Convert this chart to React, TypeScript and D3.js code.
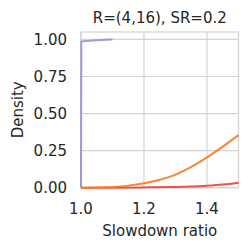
import React, { useEffect, useRef } from 'react';
import * as d3 from 'd3';

const xTicks = [1.0, 1.2, 1.4];
const yTicks = [0, 0.25, 0.5, 0.75, 1.0];

// slowdown ratio vs cumulative density, one list per series
const purpleX = [1.0, 1.001, 1.02, 1.05, 1.08, 1.1];
const purpleY = [0.0, 0.985, 0.99, 0.994, 0.997, 0.999];

const orangeX = [1.0, 1.05, 1.1, 1.15, 1.2, 1.25, 1.3, 1.35, 1.4, 1.45, 1.5];
const orangeY = [0.0, 0.001, 0.005, 0.014, 0.03, 0.054, 0.088, 0.14, 0.205, 0.277, 0.355];

const redX = [1.0, 1.1, 1.2, 1.3, 1.35, 1.4, 1.45, 1.5];
const redY = [0.0, 0.0005, 0.002, 0.005, 0.008, 0.013, 0.021, 0.034];

const App = () => {
    const ref = useRef<SVGSVGElement>(null);

    useEffect(() => {
        const svg = d3.select(ref.current);
        svg.selectAll("*").remove();

        const left = 81, right = 238.5, top = 32, bottom = 187.7;
        const x = d3.scaleLinear().domain([1.0, 1.5]).range([left, right]);
        const y = d3.scaleLinear().domain([0, 1.05]).range([bottom, top]);
        const font = "DejaVu Sans, sans-serif";
        const fs = 15;

        svg.append("rect")
            .attr("x", left).attr("y", top)
            .attr("width", right - left).attr("height", bottom - top)
            .attr("fill", "white")
            .attr("stroke", "#d3d3d3").attr("stroke-width", 1.2);

        const g = svg.append("g");
        g.selectAll(".gx").data(xTicks).enter().append("line")
            .attr("x1", d => x(d)).attr("x2", d => x(d))
            .attr("y1", top).attr("y2", bottom)
            .attr("stroke", "#d3d3d3").attr("stroke-width", 1.2);
        g.selectAll(".gy").data(yTicks).enter().append("line")
            .attr("x1", left).attr("x2", right)
            .attr("y1", d => y(d)).attr("y2", d => y(d))
            .attr("stroke", "#d3d3d3").attr("stroke-width", 1.2);

        g.selectAll(".tx").data(xTicks).enter().append("text")
            .attr("x", d => x(d)).attr("y", 214)
            .attr("text-anchor", "middle")
            .attr("font-family", font).attr("font-size", fs).attr("fill", "#262626")
            .text(d => d3.format(".1f")(d));
        g.selectAll(".ty").data(yTicks).enter().append("text")
            .attr("x", 67).attr("y", d => y(d))
            .attr("dy", "0.36em")
            .attr("text-anchor", "end")
            .attr("font-family", font).attr("font-size", fs).attr("fill", "#262626")
            .text(d => d3.format(".2f")(d));

        const line = d3.line<[number, number]>()
            .x(d => x(d[0]))
            .y(d => y(d[1]))
            .curve(d3.curveMonotoneX);

        const series = [
            { xs: redX, ys: redY, color: "#f0473c", op: 0.95 },
            { xs: orangeX, ys: orangeY, color: "#f77f2a", op: 0.95 },
            { xs: purpleX, ys: purpleY, color: "#8e86d2", op: 0.8 },
        ];
        series.forEach(s => {
            svg.append("path")
                .datum(s.xs.map((v, i) => [v, s.ys[i]] as [number, number]))
                .attr("d", line)
                .attr("fill", "none")
                .attr("stroke", s.color)
                .attr("stroke-width", 2)
                .attr("stroke-opacity", s.op);
        });

        svg.append("text")
            .attr("x", (left + right) / 2).attr("y", 23)
            .attr("text-anchor", "middle")
            .attr("font-family", font).attr("font-size", fs).attr("fill", "#262626")
            .text("R=(4,16), SR=0.2");

        svg.append("text")
            .attr("x", (left + right) / 2).attr("y", 236)
            .attr("text-anchor", "middle")
            .attr("font-family", font).attr("font-size", fs).attr("fill", "#262626")
            .text("Slowdown ratio");

        svg.append("text")
            .attr("transform", `translate(23, ${(top + bottom) / 2}) rotate(-90)`)
            .attr("text-anchor", "middle")
            .attr("font-family", font).attr("font-size", fs).attr("fill", "#262626")
            .text("Density");
    }, []);

    return (
        <svg ref={ref} width={249} height={250}
            style={{ position: "absolute", left: 0, top: 0, background: "white" }} />
    );
};

export default App;
